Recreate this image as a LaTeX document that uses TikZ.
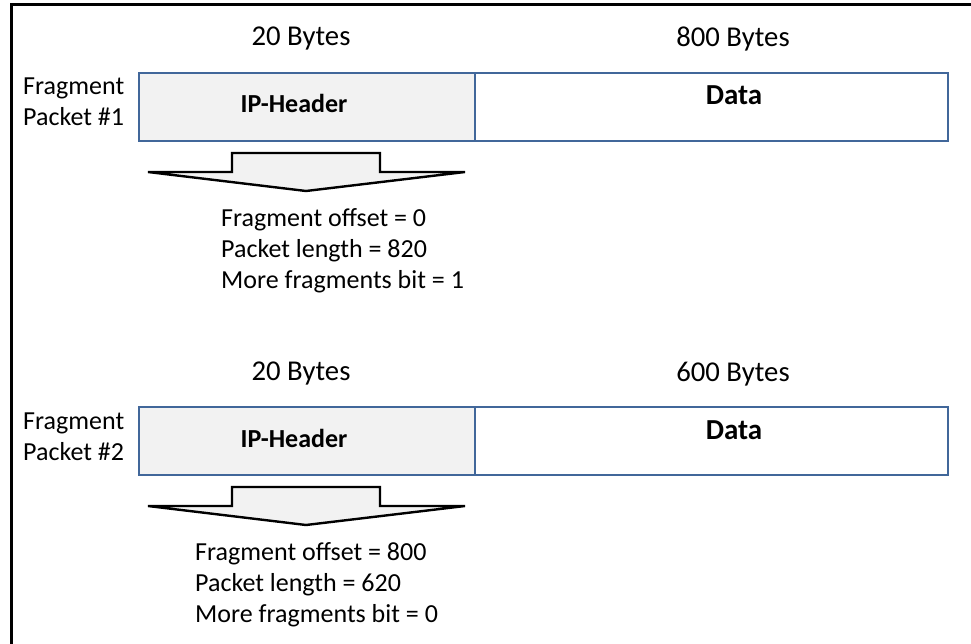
\documentclass[tikz,border=0pt]{standalone}
\usepackage{fontspec}
\setmainfont{Carlito}
\definecolor{boxblue}{HTML}{41679A}
\definecolor{hdrfill}{HTML}{F2F2F2}
\tikzset{
  x=1pt, y=-1pt,
  txt/.style={inner sep=0pt, font=\fontsize{26}{31}\selectfont},
  big/.style={inner sep=0pt, font=\fontsize{28.7}{34}\selectfont},
  bold/.style={txt, font=\fontsize{26}{31}\selectfont\bfseries},
  bigbold/.style={txt, font=\fontsize{29}{34}\selectfont\bfseries},
  info/.style={txt, align=left, anchor=base west},
  field/.style={draw=boxblue, line width=2.2pt, inner sep=0pt},
  hdrbox/.style={field, fill=hdrfill},
  downarrow/.style={draw=black, fill=hdrfill, line width=2.4pt, line join=miter},
}
% broad down-pointing arrow under a header; #1 is the vertical offset
\newcommand{\fragarrow}[1]{%
  \draw[downarrow] (232,153+#1) -- (380,153+#1) -- (380,172+#1) -- (465,172+#1)
    -- (306,191+#1) -- (148,172+#1) -- (232,172+#1) -- cycle;}
\begin{document}
\begin{tikzpicture}
\useasboundingbox (0,0) rectangle (971,644);
\fill[white] (0,0) rectangle (971,644);
% outer frame (top and left edges)
\draw[line width=3pt] (11.5,646) -- (11.5,4.5) -- (973,4.5);

% ---- fragment packet 1 ----
\node[big, anchor=base] (b1a) at (301,46) {20 Bytes};
\node[big, anchor=base] (b1b) at (733,47) {800 Bytes};
\node[info] (p1) at (23,126) {Fragment\\Packet \#1};
\path[hdrbox] (139,73) rectangle (475,141);
\path[field] (475,73) rectangle (948,141);
\node[bold, anchor=base] (h1) at (294,113) {IP-Header};
\node[bigbold, anchor=base] (d1) at (734,105) {Data};
\fragarrow{0}
\node[info] (i1) at (221,288) {Fragment offset = 0\\Packet length = 820\\More fragments bit = 1};

% ---- fragment packet 2 ----
\node[big, anchor=base] (b2a) at (301,380) {20 Bytes};
\node[big, anchor=base] (b2b) at (733,381) {600 Bytes};
\node[info] (p2) at (23,460) {Fragment\\Packet \#2};
\path[hdrbox] (139,407) rectangle (475,475);
\path[field] (475,407) rectangle (948,475);
\node[bold, anchor=base] (h2) at (294,447) {IP-Header};
\node[bigbold, anchor=base] (d2) at (734,439) {Data};
\fragarrow{334}
\node[info] (i2) at (195,622) {Fragment offset = 800\\Packet length = 620\\More fragments bit = 0};
\end{tikzpicture}
\end{document}
